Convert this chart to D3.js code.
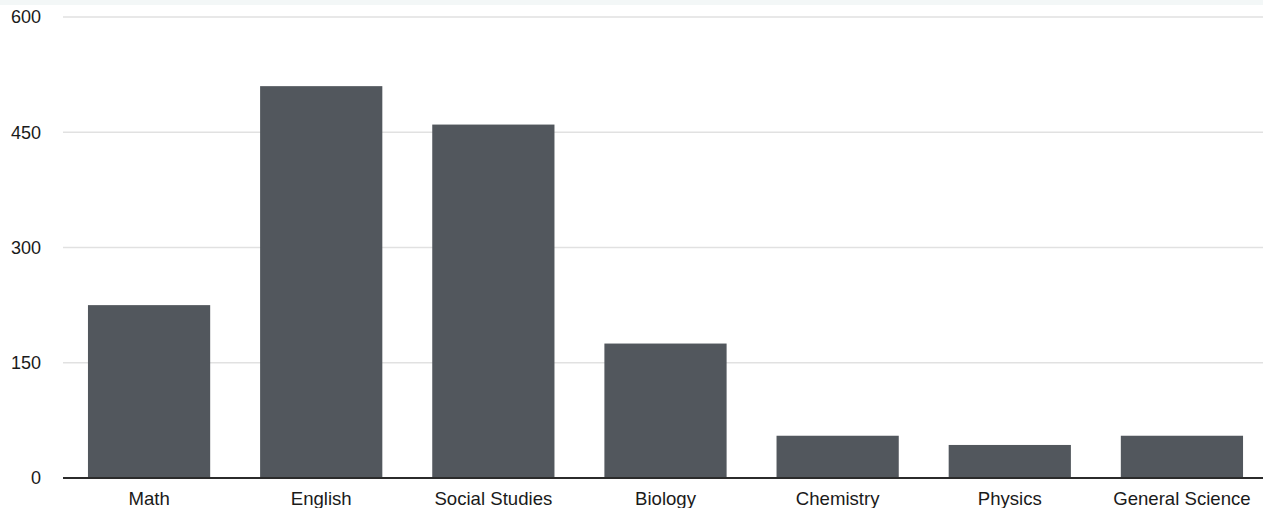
<!DOCTYPE html>
<html>
<head>
<meta charset="utf-8">
<script src="https://cdn.jsdelivr.net/npm/d3@7"></script>
<style>
  html, body { margin: 0; padding: 0; background: #ffffff; }
  svg { display: block; }
  text { font-family: "Liberation Sans", Arial, Helvetica, sans-serif; fill: #1a1a1a; }
</style>
</head>
<body>
<svg id="chart" width="1263" height="508"></svg>
<script>
// Enrolment by subject
const subjects = ["Math", "English", "Social Studies", "Biology", "Chemistry", "Physics", "General Science"];
const counts = [225, 510, 460, 175, 55, 43, 55];
const yTicks = [0, 150, 300, 450, 600];

const width = 1263, height = 508;
const svg = d3.select("#chart");

// thin header strip along the top edge
svg.append("rect")
  .attr("x", 0).attr("y", 0)
  .attr("width", width).attr("height", 5)
  .attr("fill", "#f3f7f7");

const x = d3.scaleBand()
  .domain(subjects)
  .range([63, 1268])
  .paddingInner(0.29)
  .paddingOuter(0.145);

const y = d3.scaleLinear()
  .domain([0, 600])
  .range([478, 17]);

// horizontal gridlines
svg.append("g")
  .selectAll("line")
  .data(yTicks.filter(d => d > 0))
  .join("line")
  .attr("x1", 63).attr("x2", width)
  .attr("y1", d => y(d)).attr("y2", d => y(d))
  .attr("stroke", "#e1e1e1")
  .attr("stroke-width", 1.6);

// y axis labels
const yAxis = d3.axisLeft(y).tickValues(yTicks).tickSize(0).tickPadding(0);
const gy = svg.append("g").attr("transform", "translate(41,0)").call(yAxis);
gy.select(".domain").remove();
gy.selectAll("text")
  .attr("font-size", 18)
  .attr("fill", "#1a1a1a")
  .attr("font-family", "'Liberation Sans', Arial, Helvetica, sans-serif");

// bars
svg.append("g")
  .selectAll("rect")
  .data(subjects.map((s, i) => ({ subject: s, value: counts[i] })))
  .join("rect")
  .attr("x", d => x(d.subject))
  .attr("y", d => y(d.value))
  .attr("width", x.bandwidth())
  .attr("height", d => y(0) - y(d.value))
  .attr("fill", "#52575d");

// baseline
svg.append("line")
  .attr("x1", 63).attr("x2", width)
  .attr("y1", y(0)).attr("y2", y(0))
  .attr("stroke", "#2b2b2b")
  .attr("stroke-width", 1.8);

// category labels
const xAxis = d3.axisBottom(x).tickSize(0).tickPadding(0);
const gx = svg.append("g").attr("transform", "translate(0,478)").call(xAxis);
gx.select(".domain").remove();
gx.selectAll("text")
  .attr("y", 27)
  .attr("dy", null)
  .attr("font-size", 18.6)
  .attr("fill", "#1a1a1a")
  .attr("font-family", "'Liberation Sans', Arial, Helvetica, sans-serif");
</script>
</body>
</html>
